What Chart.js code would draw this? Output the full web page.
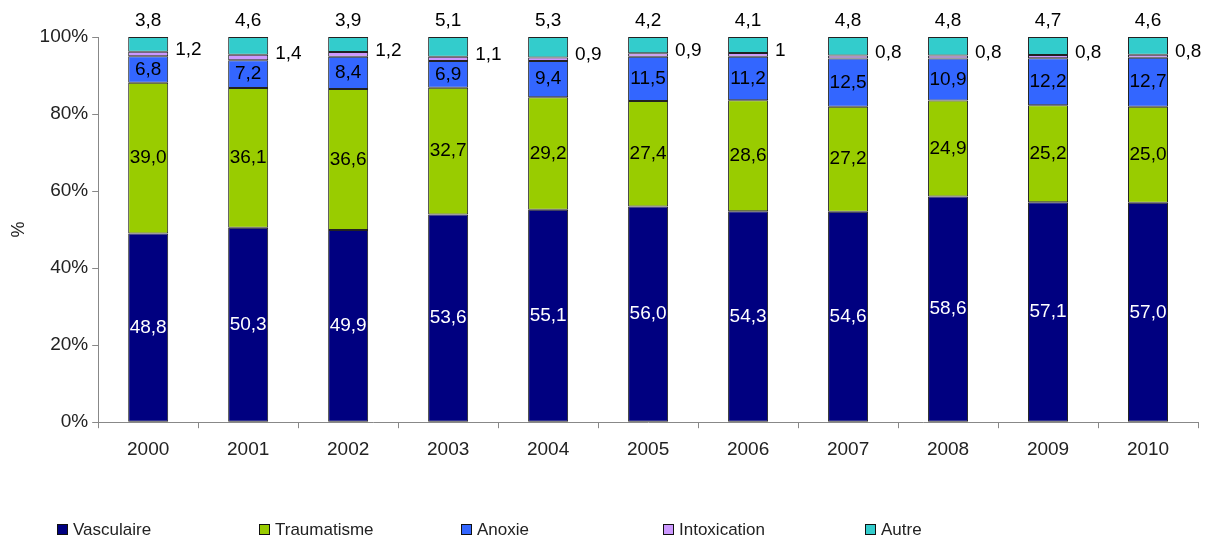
<!DOCTYPE html>
<html>
<head>
<meta charset="utf-8">
<script src="https://cdn.jsdelivr.net/npm/chart.js@4.4.1/dist/chart.umd.min.js"></script>
<style>
  html, body { margin: 0; padding: 0; background: #fff; }
  #wrap { position: relative; width: 1207px; height: 541px; }
  #legend { position: absolute; left: 57px; top: 520px; font: 17px "Liberation Sans", Arial, sans-serif; color: #222; }
  .item { position: absolute; top: 0; white-space: nowrap; line-height: 20px; }
  .box { display: inline-block; width: 9px; height: 9px; border: 1px solid #111; margin-right: 5px; vertical-align: 0px; }
</style>
</head>
<body>
<div id="wrap">
  <canvas id="myChart" width="1207" height="541"></canvas>
  <div id="legend"></div>
</div>
<script>
// categories and series (in %)
const years = ['2000', '2001', '2002', '2003', '2004', '2005', '2006', '2007', '2008', '2009', '2010'];
const vasculaire   = [48.8, 50.3, 49.9, 53.6, 55.1, 56.0, 54.3, 54.6, 58.6, 57.1, 57.0];
const traumatisme  = [39.0, 36.1, 36.6, 32.7, 29.2, 27.4, 28.6, 27.2, 24.9, 25.2, 25.0];
const anoxie       = [6.8, 7.2, 8.4, 6.9, 9.4, 11.5, 11.2, 12.5, 10.9, 12.2, 12.7];
const intoxication = [1.2, 1.4, 1.2, 1.1, 0.9, 0.9, 1, 0.8, 0.8, 0.8, 0.8];
const autre        = [3.8, 4.6, 3.9, 5.1, 5.3, 4.2, 4.1, 4.8, 4.8, 4.7, 4.6];
const yTicks = [0, 20, 40, 60, 80, 100];

const series = [
  { label: 'Vasculaire', values: vasculaire, color: '#000080' },
  { label: 'Traumatisme', values: traumatisme, color: '#99CC00' },
  { label: 'Anoxie', values: anoxie, color: '#3366FF' },
  { label: 'Intoxication', values: intoxication, color: '#CC99FF' },
  { label: 'Autre', values: autre, color: '#33CCCC' }
];

// 100% stacked: each year scaled to its total
const totals = years.map((y, i) => series.reduce((s, d) => s + d.values[i], 0));

const FONT = '"Liberation Sans", Arial, sans-serif';

function fmt(v) { return v.toFixed(1).replace('.', ','); }
function fmtGeneral(v) { return String(v).replace('.', ','); }

// draws the value labels the way the original shows them
const valueLabels = {
  id: 'valueLabels',
  afterDatasetsDraw(chart) {
    const ctx = chart.ctx;
    ctx.save();
    ctx.font = '19px ' + FONT;
    ctx.textBaseline = 'middle';
    chart.data.datasets.forEach((ds, di) => {
      const meta = chart.getDatasetMeta(di);
      meta.data.forEach((bar, i) => {
        const raw = series[di].values[i];
        const mid = (bar.y + bar.base) / 2;
        if (di === 0) {
          ctx.fillStyle = '#fff'; ctx.textAlign = 'center';
          ctx.fillText(fmt(raw), bar.x, mid);
        } else if (di === 1 || di === 2) {
          ctx.fillStyle = '#000'; ctx.textAlign = 'center';
          ctx.fillText(fmt(raw), bar.x, mid);
        } else if (di === 3) {
          ctx.fillStyle = '#000'; ctx.textAlign = 'left';
          ctx.fillText(fmtGeneral(raw), bar.x + bar.width / 2 + 7, mid - 4);
        } else {
          ctx.fillStyle = '#000'; ctx.textAlign = 'center';
          ctx.fillText(fmt(raw), bar.x, bar.y - 16);
        }
      });
    });
    ctx.restore();
  }
};

new Chart(document.getElementById('myChart'), {
  type: 'bar',
  data: {
    labels: years,
    datasets: series.map(s => ({
      label: s.label,
      data: s.values.map((v, i) => v / totals[i] * 100),
      backgroundColor: s.color,
      borderColor: '#222',
      borderWidth: 1,
      borderSkipped: false,
      barPercentage: 0.4,
      categoryPercentage: 1
    }))
  },
  options: {
    responsive: false,
    animation: false,
    layout: { padding: { top: 37, right: 9, bottom: 70, left: 0 } },
    plugins: {
      legend: { display: false },
      tooltip: { enabled: false }
    },
    scales: {
      x: {
        stacked: true,
        grid: { display: true, drawOnChartArea: false, offset: true, color: '#888', tickLength: 6 },
        border: { color: '#888' },
        ticks: { color: '#222', font: { family: FONT, size: 19 }, padding: 10 }
      },
      y: {
        stacked: true,
        min: 0,
        max: 100,
        afterBuildTicks: axis => { axis.ticks = yTicks.map(v => ({ value: v })); },
        grid: { display: true, drawOnChartArea: false, color: '#888', tickLength: 6 },
        border: { color: '#888' },
        ticks: { color: '#222', font: { family: FONT, size: 19 }, padding: 4, callback: v => v + '%' },
        title: { display: true, text: '%', color: '#222', font: { family: FONT, size: 18 }, padding: { top: 8, bottom: 6 } }
      }
    }
  },
  plugins: [valueLabels]
});

// legend laid out in even columns like the original
const legend = document.getElementById('legend');
series.forEach((s, i) => {
  const el = document.createElement('div');
  el.className = 'item';
  el.style.left = (i * 202) + 'px';
  el.innerHTML = '<span class="box" style="background:' + s.color + '"></span>' + s.label;
  legend.appendChild(el);
});
</script>
</body>
</html>
